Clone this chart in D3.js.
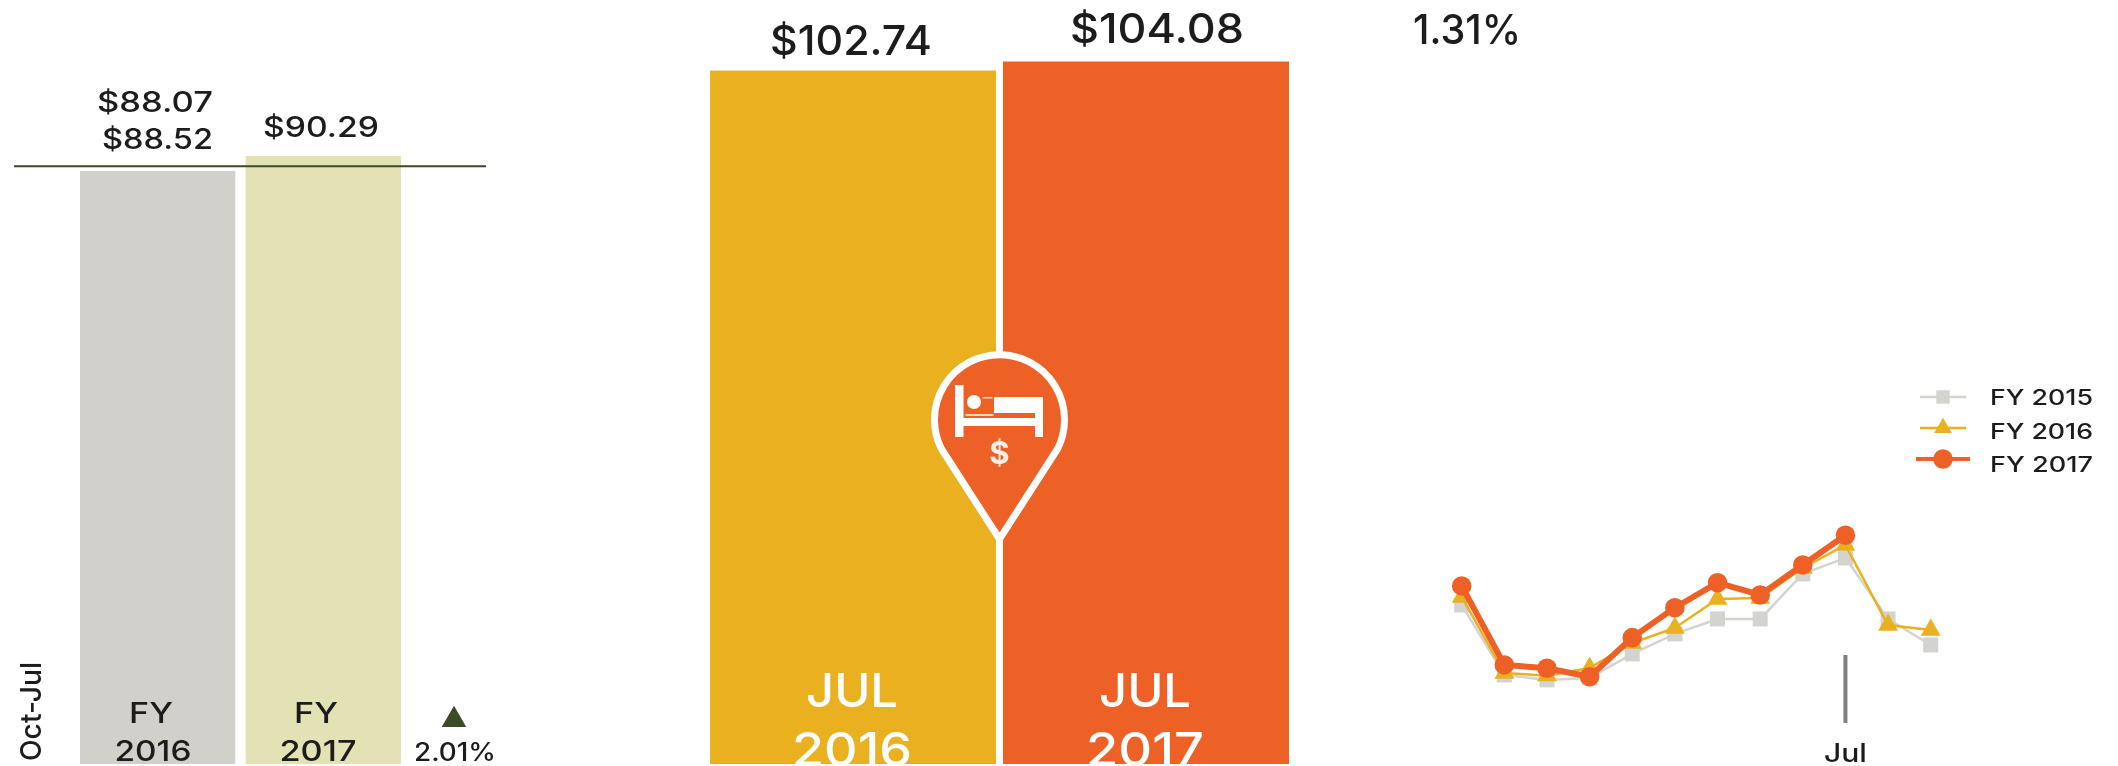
<!DOCTYPE html>
<html><head><meta charset="utf-8">
<script src="https://cdn.jsdelivr.net/npm/d3@7"></script>
<style>
html,body{margin:0;padding:0;background:#fff;overflow:hidden}
svg{display:block;filter:blur(.7px)}
text{font-family:Inter,"Noto Sans",sans-serif;font-weight:500;fill:#1c1c1c}
</style></head><body>
<svg id="c" width="2118" height="766"></svg>
<script>
// ---- data ----
const ytdCategories = ["FY 2016","FY 2017"];
const ytdValues = [88.52, 90.29];
const ytdPriorLabel = "$88.07";
const ytdChange = "2.01%";
const ytdPeriod = "Oct-Jul";
const ytdReferenceValue = 89.07;
const julyCategories = ["JUL 2016","JUL 2017"];
const julyValues = [102.74, 104.08];
const julyChange = "1.31%";
const months = ["Oct","Nov","Dec","Jan","Feb","Mar","Apr","May","Jun","Jul","Aug","Sep"];
const fy2015 = [94.45,84.79,84.10,84.37,87.69,90.45,92.52,92.52,98.74,100.95,92.52,88.93];
const fy2016 = [95.56,85.06,84.69,85.75,89.20,91.28,95.28,95.42,99.56,102.74,91.69,91.00];
const fy2017 = [97.08,86.17,85.71,84.55,89.94,94.08,97.53,95.83,99.98,104.08];
const seriesNames = ["FY 2015","FY 2016","FY 2017"];
const highlightedMonth = "Jul";

// ---- styles ----
const GREY="#d1d0cb", OLIVE="#e3e2b4", GOLD="#e9b020", ORANGE="#ee6126", DARK="#3c4a26";
const svg = d3.select("#c");
const label = (x,y,s,size,width,opts={}) => {
  const t = svg.append("text").attr("x",x).attr("y",y).attr("text-anchor","middle")
    .style("font-size",size+"px").text(s);
  if(width) t.attr("textLength",width).attr("lengthAdjust","spacingAndGlyphs");
  if(opts.fill) t.style("fill",opts.fill);
  if(opts.transform) t.attr("transform",opts.transform);
  return t;
};

// ---- left: Oct-Jul bars ----
const xYtd = d3.scaleBand().domain(ytdCategories).range([80,401]).paddingInner(0.0623);
const yYtd = d3.scaleLinear().domain([18.6,90.29]).range([764,156]);
svg.selectAll("rect.ytd").data(ytdValues).join("rect").attr("class","ytd")
  .attr("x",(d,i)=>xYtd(ytdCategories[i])).attr("width",xYtd.bandwidth())
  .attr("y",d=>yYtd(d)).attr("height",d=>yYtd.range()[0]-yYtd(d))
  .attr("fill",(d,i)=>[GREY,OLIVE][i]);
svg.append("line").attr("x1",14).attr("x2",486)
  .attr("y1",yYtd(ytdReferenceValue)).attr("y2",yYtd(ytdReferenceValue))
  .attr("stroke",DARK).attr("stroke-width",2);
label(155,112,ytdPriorLabel,28,116);
label(157.5,149,"$"+ytdValues[0].toFixed(2),28,111);
label(321,137,"$"+ytdValues[1].toFixed(2),28,116);
ytdCategories.forEach((c,i)=>{
  const [a,b]=c.split(" "), cx=[153,318][i];
  label(cx-2,723,a,29,44);
  label(cx,761,b,29,77);
});
svg.append("path").attr("d",d3.symbol(d3.symbolTriangle,260)())
  .attr("transform","translate(454,720)").attr("fill",DARK);
label(455,761,ytdChange,25,82);
label(0,0,ytdPeriod,29,99,{transform:"translate(41,711.5) rotate(-90)"});

// ---- middle: July bars ----
const xJul = d3.scaleBand().domain(julyCategories).range([710,1289]).paddingInner(0.0239);
const yJul = d3.scaleLinear().domain([0,104.08]).range([764,61.5]);
svg.selectAll("rect.jul").data(julyValues).join("rect").attr("class","jul")
  .attr("x",(d,i)=>xJul(julyCategories[i])).attr("width",xJul.bandwidth())
  .attr("y",d=>yJul(d)).attr("height",d=>yJul.range()[0]-yJul(d))
  .attr("fill",(d,i)=>[GOLD,ORANGE][i]);
label(851,55,"$"+julyValues[0].toFixed(2),41,162);
label(1157,43,"$"+julyValues[1].toFixed(2),41,174);
label(1467,44,julyChange,41,108);
julyCategories.forEach((c,i)=>{
  const [a,b]=c.split(" "), cx=[852,1145][i];
  label(cx,707,a,47,92,{fill:"#fff"});
  label(cx,766,b,47,[120,118][i],{fill:"#fff"});
});

// pin icon
const pin = svg.append("g").attr("transform","translate(999.5,420)");
pin.append("path")
  .attr("d","M0,119 C-14,97 -46,48 -58,29 A65,65 0 1 1 58,29 C46,48 14,97 0,119 Z")
  .attr("fill",ORANGE).attr("stroke","#fff").attr("stroke-width",7).attr("stroke-linejoin","miter");
const bed = pin.append("g").attr("fill","#fff");
[[-44.5,-35,8.5,52],[-44.5,-2,88,8],[35.5,-23,8,40],[-5.5,-23,41,16]].forEach(r=>
  bed.append("rect").attr("x",r[0]).attr("y",r[1]).attr("width",r[2]).attr("height",r[3]));
bed.append("circle").attr("cx",-25.5).attr("cy",-18).attr("r",7);
bed.append("rect").attr("x",-34).attr("y",-6).attr("width",28).attr("height",2).attr("opacity",.7);
bed.append("rect").attr("x",-17).attr("y",-23).attr("width",10).attr("height",1.5).attr("opacity",.7);
pin.append("text").attr("x",0).attr("y",44).attr("text-anchor","middle")
  .style("font-size","31px").style("font-weight",700).style("fill","#f4efe8").text("$");

// ---- right: monthly lines ----
const xLine = d3.scalePoint().domain(months).range([1461.7,1930.7]);
const yLine = d3.scaleLinear().domain([80,110]).range([709.6,492.4]);
const lineGen = d3.line().x((d,i)=>xLine(months[i])).y(d=>yLine(d));
const tx = xLine(highlightedMonth);
svg.append("line").attr("x1",tx).attr("x2",tx).attr("y1",655).attr("y2",723).attr("stroke","#808080").attr("stroke-width",4);
label(tx,762,highlightedMonth,25,43);

const specs = [
  {v:fy2015,c:"#d3d3cf",w:2.5,sym:d3.symbolSquare,s:225},
  {v:fy2016,c:GOLD,w:2.5,sym:d3.symbolTriangle,s:170},
  {v:fy2017,c:ORANGE,w:6,sym:d3.symbolCircle,s:300}
];
specs.forEach(sp=>{
  svg.append("path").attr("d",lineGen(sp.v)).attr("fill","none").attr("stroke",sp.c).attr("stroke-width",sp.w);
  svg.append("g").selectAll("path").data(sp.v).join("path")
    .attr("d",d3.symbol(sp.sym,sp.s)())
    .attr("transform",(d,i)=>`translate(${xLine(months[i])},${yLine(d)})`)
    .attr("fill",sp.c);
});

// legend
const legendY = d3.scalePoint().domain(seriesNames).range([397,459]);
const legendText = d3.scalePoint().domain(seriesNames).range([405,472]);
specs.forEach((sp,i)=>{
  const n=seriesNames[i], y=legendY(n);
  const half = i==2?27:23;
  svg.append("line").attr("x1",1943-half).attr("x2",1943+half).attr("y1",y).attr("y2",y)
    .attr("stroke",sp.c).attr("stroke-width",i==2?4:2.5);
  svg.append("path").attr("d",d3.symbol(sp.sym,sp.s*(i==2?1:.8))()).attr("transform",`translate(1943,${y})`).attr("fill",sp.c);
  label(2041.5,legendText(n),n,21,103);
});
</script></body></html>
